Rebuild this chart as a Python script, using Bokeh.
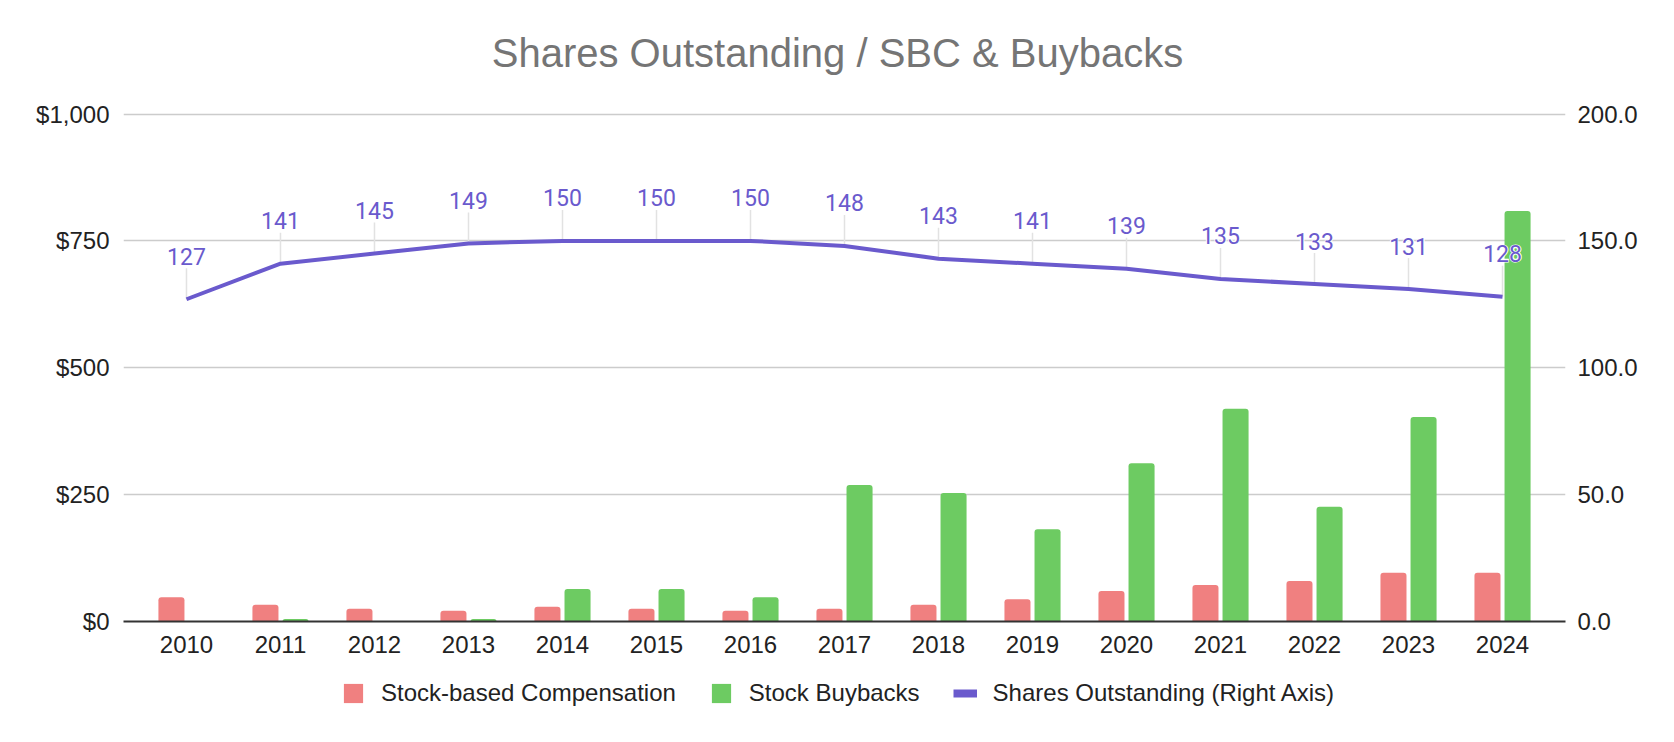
from bokeh.plotting import figure
from bokeh.models import (ColumnDataSource, FactorRange, Range1d, LinearAxis, FixedTicker,
                          NumeralTickFormatter, Legend, LegendItem, VBar, Text)
from bokeh.layouts import column
from bokeh.transform import dodge
from bokeh.core.properties import value
from bokeh.embed import file_html
from bokeh.resources import INLINE
import math

# ---- data ----
years = ["2010", "2011", "2012", "2013", "2014", "2015", "2016", "2017",
         "2018", "2019", "2020", "2021", "2022", "2023", "2024"]
sbc = [48, 33, 25, 21, 29, 25, 21, 25, 33, 44, 60, 72, 80, 96, 96]
buybacks = [0, 5, 0, 5, 64, 64, 48, 269, 253, 182, 312, 419, 226, 403, 809]
shares = [127, 141, 145, 149, 150, 150, 150, 148, 143, 141, 139, 135, 133, 131, 128]
left_ticks = [0, 250, 500, 750, 1000]
right_ticks = [0, 50, 100, 150, 200]

title_text = "Shares Outstanding / SBC & Buybacks"
series_names = ["Stock-based Compensation", "Stock Buybacks", "Shares Outstanding (Right Axis)"]

RED = "#F08080"
GREEN = "#6DCB62"
PURPLE = "#6A5ACD"
FONT = "Liberation Sans"

src = ColumnDataSource(dict(x=years, sbc=sbc, bb=buybacks, shares=shares,
                            lbl=[str(v) for v in shares]))

# ---- title strip ----
tt = figure(width=1658, height=96, output_backend="svg", toolbar_location=None,
            x_range=Range1d(0, 1), y_range=Range1d(0, 1),
            x_axis_type=None, y_axis_type=None,
            min_border_left=0, min_border_right=0, min_border_top=0, min_border_bottom=0)
tt.outline_line_color = None
tt.background_fill_color = "white"
tt.border_fill_color = "white"
tt.text(x=[0.5], y=[0.5], text=[title_text], x_offset=-7, y_offset=4,
        text_align="center", text_baseline="middle",
        text_font=value(FONT), text_font_size="40px", text_color="#757575")

# ---- main chart ----
p = figure(width=1658, height=570, output_backend="svg", toolbar_location=None,
           x_range=FactorRange(factors=years, range_padding=0.17, range_padding_units="absolute"),
           y_range=Range1d(0, 1003),
           min_border_left=123, min_border_right=93, min_border_top=16, min_border_bottom=45)
p.outline_line_color = None
p.background_fill_color = "white"
p.border_fill_color = "white"

p.extra_y_ranges = {"shares": Range1d(0, 200.6)}

# axes
xa = p.xaxis[0]
xa.axis_line_color = "#333333"
xa.axis_line_width = 2
xa.major_tick_line_color = None
xa.minor_tick_line_color = None
xa.major_tick_out = 0
xa.major_tick_in = 0
xa.major_label_standoff = 14
xa.major_label_text_font = FONT
xa.major_label_text_font_size = "24px"
xa.major_label_text_color = "#222222"

ya = p.yaxis[0]
ya.ticker = FixedTicker(ticks=left_ticks)
ya.formatter = NumeralTickFormatter(format="$0,0")
ya.axis_line_color = None
ya.major_tick_line_color = None
ya.minor_tick_line_color = None
ya.major_tick_out = 0
ya.major_tick_in = 0
ya.major_label_standoff = 14
ya.major_label_text_font = FONT
ya.major_label_text_font_size = "24px"
ya.major_label_text_color = "#222222"

ra = LinearAxis(y_range_name="shares", ticker=FixedTicker(ticks=right_ticks),
                formatter=NumeralTickFormatter(format="0.0"))
ra.axis_line_color = None
ra.major_tick_line_color = None
ra.minor_tick_line_color = None
ra.major_tick_out = 0
ra.major_tick_in = 0
ra.major_label_standoff = 12
ra.major_label_text_font = FONT
ra.major_label_text_font_size = "24px"
ra.major_label_text_color = "#222222"
p.add_layout(ra, "right")

p.xgrid.grid_line_color = None
p.ygrid.ticker = FixedTicker(ticks=left_ticks)
p.ygrid.grid_line_color = "#cccccc"
p.ygrid.grid_line_width = 1.5

bar_kw = {}
if "border_radius" in VBar.properties():
    bar_kw["border_radius"] = (3, 3, 0, 0)

r_sbc = p.vbar(x=dodge("x", -0.16, range=p.x_range), top="sbc", width=0.277, source=src,
               fill_color=RED, line_color=None, **bar_kw)
r_bb = p.vbar(x=dodge("x", 0.16, range=p.x_range), top="bb", width=0.277, source=src,
              fill_color=GREEN, line_color=None, **bar_kw)

# leader lines for data labels
p.ray(x="x", y="shares", length=31, length_units="screen", angle=math.pi / 2,
      y_range_name="shares", source=src, line_color="#e2e2e2", line_width=1.5)

r_line = p.line(x="x", y="shares", y_range_name="shares", source=src,
                line_color=PURPLE, line_width=4, line_join="round")

# white halo under the data labels, then the labels themselves
halo_kw = {}
if "text_outline_color" in Text.properties():
    halo_kw["text_outline_color"] = "white"
p.text(x="x", y="shares", text="lbl", y_range_name="shares", source=src,
       y_offset=-43, text_align="center", text_baseline="middle",
       text_font=value("Roboto"), text_font_size="23px", text_font_style="bold",
       text_color="white", **halo_kw)
p.text(x="x", y="shares", text="lbl", y_range_name="shares", source=src,
       y_offset=-43, text_align="center", text_baseline="middle",
       text_font=value("Roboto"), text_font_size="23px", text_color=PURPLE)

# ---- legend strip (own small canvas below the chart; series kept out of its view) ----
lg = figure(width=1658, height=54, output_backend="svg", toolbar_location=None,
            x_range=p.x_range, y_range=Range1d(-3000, -2000),
            x_axis_type=None, y_axis_type=None,
            min_border_left=0, min_border_right=0, min_border_top=0, min_border_bottom=0)
lg.outline_line_color = None
lg.background_fill_color = "white"
lg.border_fill_color = "white"
lg_sbc = lg.vbar(x="x", top="sbc", width=0, source=src, fill_color=RED, line_color=None)
lg_bb = lg.vbar(x="x", top="bb", width=0, source=src, fill_color=GREEN, line_color=None)
lg_line = lg.line(x="x", y="shares", source=src, line_color=PURPLE, line_width=8)

legend = Legend(items=[LegendItem(label=series_names[0], renderers=[lg_sbc]),
                       LegendItem(label=series_names[1], renderers=[lg_bb]),
                       LegendItem(label=series_names[2], renderers=[lg_line])],
                location=(218, 13), orientation="horizontal")
legend.glyph_width = 24
legend.glyph_height = 24
legend.label_standoff = 16
legend.spacing = 33
legend.padding = 0
legend.margin = 0
legend.border_line_color = None
legend.background_fill_alpha = 0
legend.label_text_font = FONT
legend.label_text_font_size = "24px"
legend.label_text_color = "#222222"
lg.add_layout(legend)

layout = column(tt, p, lg, spacing=0)
open("out.html", "w").write(file_html(layout, INLINE))
